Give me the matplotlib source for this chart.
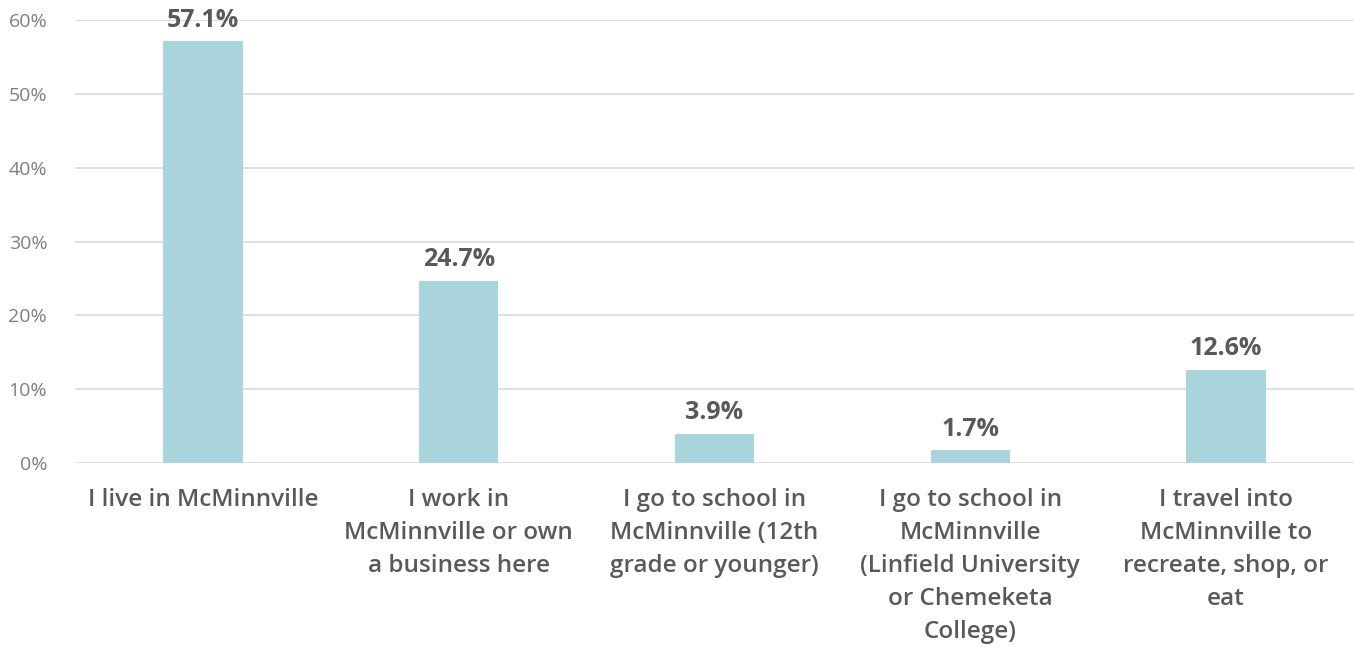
import matplotlib
matplotlib.use('Agg')
import matplotlib.pyplot as plt
from matplotlib.ticker import PercentFormatter

categories = [
    "I live in McMinnville",
    "I work in\nMcMinnville or own\na business here",
    "I go to school in\nMcMinnville (12th\ngrade or younger)",
    "I go to school in\nMcMinnville\n(Linfield University\nor Chemeketa\nCollege)",
    "I travel into\nMcMinnville to\nrecreate, shop, or\neat",
]
values = [57.1, 24.7, 3.9, 1.7, 12.6]
yticks = [0, 10, 20, 30, 40, 50, 60]

bar_color = "#A9D4DB"
text_color = "#595959"
tick_color = "#7F7F7F"
font = "Open Sans"

fig = plt.figure(figsize=(13.54, 6.48), dpi=100)
ax = fig.add_axes([0.0554, 0.2855, 0.9446, 0.6835])

x = range(len(categories))
ax.bar(x, values, width=0.31, color=bar_color, zorder=3)

# value labels above bars
for xi, v in zip(x, values):
    ax.text(xi, v + 1.2, f"{v:.1f}%", ha="center", va="bottom",
            fontsize=18, fontweight="bold", color=text_color, family=font)

ax.set_xlim(-0.5, len(categories) - 0.5)
ax.set_ylim(0, 60)
ax.set_yticks(yticks)
ax.yaxis.set_major_formatter(PercentFormatter(decimals=0))
ax.grid(axis="y", color="#D9D9D9", linewidth=1.2, zorder=0)

ax.set_xticks(list(x))
ax.set_xticklabels(categories, fontsize=17.5, fontweight="semibold", color=text_color,
                   family=font, linespacing=1.5, va="top")
ax.tick_params(axis="x", length=0, pad=18)
ax.tick_params(axis="y", length=0, pad=20, labelsize=14, labelcolor=tick_color)
for lbl in ax.get_yticklabels():
    lbl.set_family(font)

for s in ax.spines.values():
    s.set_visible(False)

plt.savefig("out.png", dpi=100)
plt.close()
